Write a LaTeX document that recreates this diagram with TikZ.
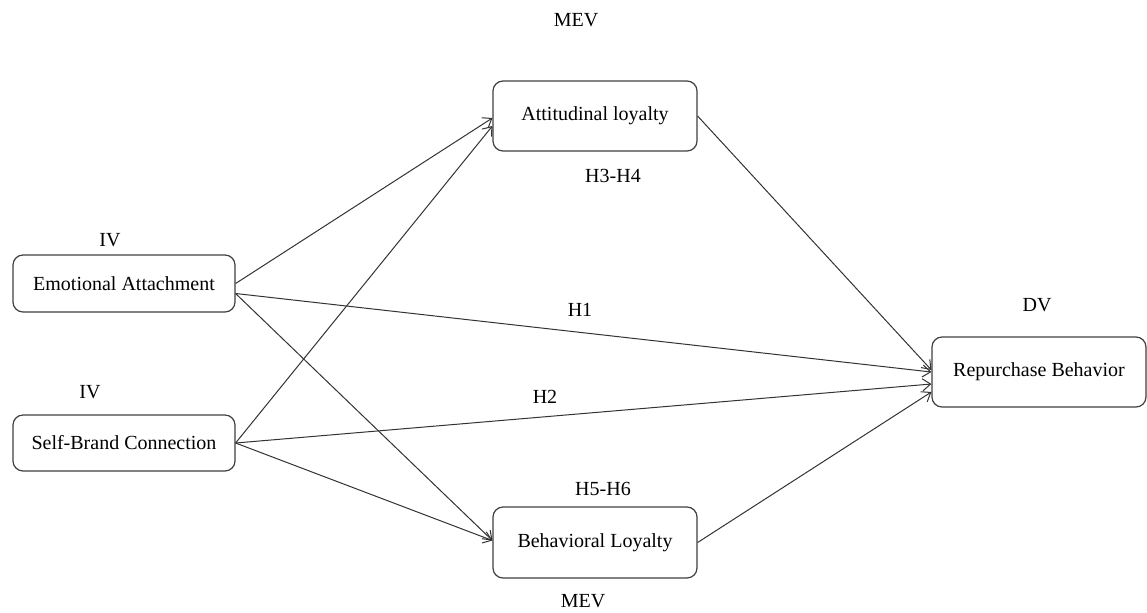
\documentclass[tikz,border=0pt]{standalone}
\usepackage{fontspec}
\setmainfont{Liberation Serif}
\usepackage{tikz}
\usetikzlibrary{shapes,arrows,arrows.meta,positioning}
\usepackage{xcolor}

\tikzset{
  varbox/.style={draw=black!75, line width=0.6pt, rounded corners=5pt, fill=white,
    align=center, inner sep=0pt, font=\fontsize{10}{12}\selectfont},
  tag/.style={font=\fontsize{10}{12}\selectfont, inner sep=1pt},
  path/.style={-{Straight Barb[length=4pt,width=6pt]}, draw=black!80, line width=0.5pt}
}

\begin{document}
\begin{tikzpicture}[x=0.5pt, y=-0.5pt]
      \useasboundingbox (0,0) rectangle (1147,612);

      % Variablen
      \node[varbox, minimum width=111pt, minimum height=28.5pt] (emo) at (124,283.5) {Emotional Attachment};
      \node[varbox, minimum width=111pt, minimum height=28pt] (self) at (124,443) {Self-Brand Connection};
      \node[varbox, minimum width=102pt, minimum height=35pt] (att) at (595,116) {Attitudinal loyalty};
      \node[varbox, minimum width=102pt, minimum height=35.5pt] (beh) at (595,542.5) {Behavioral Loyalty};
      \node[varbox, minimum width=107pt, minimum height=35pt] (rep) at (1039,372) {Repurchase Behavior};

      % Beschriftungen
      \node[tag] (mevtop) at (576,20) {MEV};
      \node[tag] (mevbot) at (583,601) {MEV};
      \node[tag] (iv1) at (110,240) {IV};
      \node[tag] (iv2) at (90,392) {IV};
      \node[tag] (dv) at (1037,305) {DV};
      \node[tag] (h34) at (613,176) {H3-H4};
      \node[tag] (h56) at (603,489) {H5-H6};
      \node[tag] (h1) at (580,310) {H1};
      \node[tag] (h2) at (545,397) {H2};

      % Pfeile
      \draw[path] (emo.east) -- ([yshift=-1pt]att.west);
      \draw[path] ([yshift=-5pt]emo.east) -- (rep.west);
      \draw[path] ([yshift=-5pt]emo.east) -- ([yshift=1pt]beh.west);
      \draw[path] (self.east) -- ([yshift=-5pt]att.west);
      \draw[path] (self.east) -- ([yshift=-6pt]rep.west);
      \draw[path] (self.east) -- ([yshift=1pt]beh.west);
      \draw[path] (att.east) -- ([yshift=1pt]rep.west);
      \draw[path] (beh.east) -- ([yshift=-10pt]rep.west);
    \end{tikzpicture}
\end{document}
